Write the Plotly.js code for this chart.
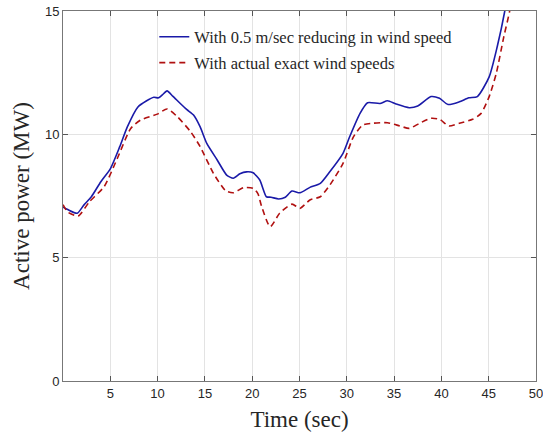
<!DOCTYPE html>
<html>
<head>
<meta charset="utf-8">
<script src="https://cdn.plot.ly/plotly-3.0.1.min.js"></script>
<style>html,body{margin:0;padding:0;background:#fff;}#chart{width:543px;height:434px;}</style>
</head>
<body>
<div id="chart"></div>
<script>
// Blue: with 0.5 m/sec reducing in wind speed
var tBlue = [0,0.5,1.5,2.2,3,4,5,6,6.8,7.9,8.8,9.6,10.1,10.5,11,11.6,12.4,13.1,13.8,14.5,15.2,16.3,17.3,18,18.7,19.4,20.1,20.8,21.5,22,22.8,23.5,24.2,25.05,26.1,27.2,28.2,29.6,30.3,31.4,32.2,33.5,34.3,35.2,36.6,37.5,38.9,39.8,40.7,41.9,42.9,43.8,45.05,45.9,46.7,47.2];
var pBlue = [7.05,6.95,6.8,7.13,7.47,8.08,8.6,9.5,10.3,11.1,11.35,11.5,11.48,11.6,11.76,11.55,11.25,11.0,10.78,10.3,9.63,8.96,8.35,8.22,8.4,8.48,8.44,8.15,7.47,7.45,7.38,7.45,7.7,7.63,7.85,8.01,8.48,9.23,9.9,10.85,11.28,11.25,11.36,11.23,11.08,11.15,11.53,11.46,11.21,11.32,11.48,11.53,12.33,13.55,15.0,16.2];
// Red: with actual exact wind speeds
var tRed = [0,0.5,1.6,2.8,4.35,5.75,7.16,8.2,9.97,11,12.1,13.5,14.5,15.9,17.2,18,19.1,20.1,20.6,21,21.9,22.9,24.2,25.05,26.1,27.2,28.2,29.6,30.7,31.7,32.8,34.3,35.6,36.6,37.7,38.9,39.8,40.8,41.9,43.3,44.2,45.05,45.8,46.6,47.2,47.7];
var pRed = [7.15,6.85,6.69,7.27,7.88,9.03,10.24,10.58,10.82,11.03,10.71,10.1,9.5,8.42,7.71,7.63,7.84,7.81,7.6,7.07,6.25,6.8,7.17,7.0,7.34,7.47,7.94,8.82,9.9,10.38,10.45,10.47,10.34,10.24,10.45,10.65,10.61,10.34,10.45,10.61,10.85,11.53,12.47,13.96,14.97,16.2];
var xTicks = [5,10,15,20,25,30,35,40,45,50];
var yTicks = [0,5,10,15];
var names = ['With 0.5 m/sec reducing in wind speed', 'With actual exact wind speeds'];

var traces = [
  {x: tBlue, y: pBlue, type: 'scatter', mode: 'lines', name: names[0],
   line: {color: '#1a1aa8', width: 1.6, shape: 'spline', smoothing: 0.6}, legend: 'legend'},
  {x: tRed, y: pRed, type: 'scatter', mode: 'lines', name: names[1],
   line: {color: '#b01010', width: 1.6, dash: '6px,4px', shape: 'spline', smoothing: 0.6}, legend: 'legend2'}
];

var axisCommon = {
  showline: true, linecolor: '#777777', linewidth: 1, mirror: 'allticks',
  ticks: 'inside', ticklen: 5, tickcolor: '#555555', tickwidth: 1,
  showgrid: true, gridcolor: '#e3e3e3', gridwidth: 1, zeroline: false,
  ticklabeloverflow: 'allow',
  tickfont: {family: 'Liberation Sans, Arial, sans-serif', size: 13, color: '#262626'}
};

var layout = {
  width: 543, height: 434,
  margin: {l: 63, r: 7, t: 11, b: 53},
  paper_bgcolor: '#ffffff', plot_bgcolor: '#ffffff',
  xaxis: Object.assign({}, axisCommon, {
    range: [0, 50], tickvals: xTicks, ticktext: xTicks.map(String),
    title: {text: 'Time (sec)', standoff: 11, font: {family: 'Liberation Serif, Times New Roman, serif', size: 23, color: '#262626'}}
  }),
  yaxis: Object.assign({}, axisCommon, {
    range: [0, 15], tickvals: yTicks, ticktext: yTicks.map(String),
    title: {text: 'Active power (MW)', standoff: 8, font: {family: 'Liberation Serif, Times New Roman, serif', size: 23, color: '#262626'}}
  }),
  showlegend: true,
  legend: {x: 0.193, y: 0.977, xanchor: 'left', yanchor: 'top', bgcolor: 'rgba(0,0,0,0)',
    font: {family: 'Liberation Serif, Times New Roman, serif', size: 16.5, color: '#262626'}},
  legend2: {x: 0.193, y: 0.907, xanchor: 'left', yanchor: 'top', bgcolor: 'rgba(0,0,0,0)',
    font: {family: 'Liberation Serif, Times New Roman, serif', size: 16.5, color: '#262626'}}
};

Plotly.newPlot('chart', traces, layout, {displayModeBar: false, staticPlot: true});
</script>
</body>
</html>
